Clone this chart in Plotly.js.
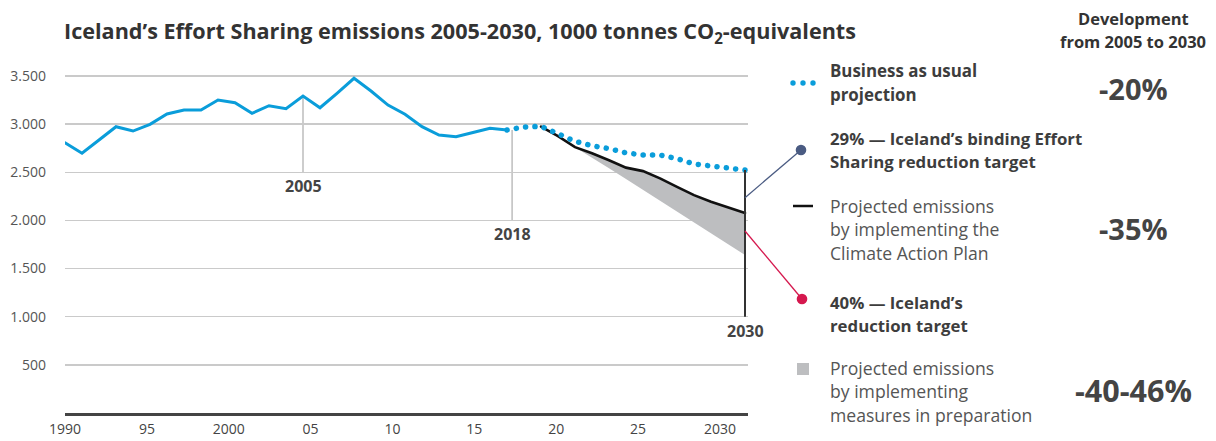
<!DOCTYPE html>
<html><head><meta charset="utf-8">
<script src="https://cdn.plot.ly/plotly-3.0.1.min.js"></script>
<style>
html,body{margin:0;padding:0;background:#fff;}
#chart{width:1216px;height:441px;}
.scatterlayer .js-line{stroke-linecap:round;}
</style></head><body><div id="chart"></div>
<script>
// ---- data (1000 tonnes CO2-eq) ----
const histYears = [1990,1991,1992,1993,1994,1995,1996,1997,1998,1999,2000,2001,2002,2003,2004,2005,2006,2007,2008,2009,2010,2011,2012,2013,2014,2015,2016];
const histValues = [2807,2697,2835,2973,2928,2998,3105,3146,3146,3250,3222,3112,3191,3160,3292,3170,3320,3476,3344,3198,3102,2973,2887,2869,2913,2956,2939];
const bauYears = [2016,2017,2018,2019,2020,2021,2022,2023,2024,2025,2026,2027,2028,2029,2030];
const bauValues = [2939,2970,2977,2894,2822,2775,2746,2701,2679,2679,2641,2586,2564,2541,2523];
const planYears = [2018,2019,2020,2021,2022,2023,2024,2025,2026,2027,2028,2029,2030];
const planValues = [2975,2876,2761,2697,2624,2548,2512,2436,2349,2262,2193,2133,2077];
const prepValues = [2975,2876,2761,2654,2542,2429,2317,2204,2091,1978,1866,1753,1641];
const targetYear = 2030;
const target29 = 2236;
const target40 = 1890;
const yTickVals = [500,1000,1500,2000,2500,3000,3500];
const yTickText = ['500','1.000','1.500','2.000','2.500','3.000','3.500'];
const xTickVals = [1990,1995,2000,2005,2010,2015,2020,2025,2030];
const xTickText = ['1990','95','2000','05','10','15','20','25','2030'];
const markerLabels = ['2005','2018','2030'];
const changeLabels = ['-20%','-35%','-40-46%'];

// ---- geometry helpers (styling/positions) ----
const L = 65, T = 70, W = 683, H = 343;
const X0 = 1990, X1 = 1990 + W/17;      // data axis
const Y1 = 3562;
const px = x => (x - L) / W;
const py = y => (T + H - y) / H;
const dataXp = yr => (yr - X0) / (X1 - X0);
const dataYp = v => v / Y1;

const blue = '#0a9dda', txt = '#3d3d3d', light = '#555';
const font = '"Open Sans", "Noto Sans", sans-serif';

const traces = [
  {x: planYears, y: prepValues, mode: 'lines', line: {width: 0}, hoverinfo: 'skip'},
  {x: planYears, y: planValues, mode: 'lines', fill: 'tonexty', fillcolor: '#bdbec0', line: {width: 0}, hoverinfo: 'skip'},
  {x: planYears, y: planValues, mode: 'lines', line: {color: '#111', width: 2.6}},
  {x: bauYears, y: bauValues, mode: 'lines', line: {color: blue, width: 5.5, dash: '0.1px,9.3px'}},
  {x: histYears, y: histValues, mode: 'lines', line: {color: blue, width: 3}},
  // empty trace so the tick-label axis (x2) is drawn
  {x: [], y: [], xaxis: 'x2', yaxis: 'y', mode: 'lines', hoverinfo: 'skip'}
];

const markerPos = [2004, 2016.3, targetYear];
const markerTop = [histValues[14], histValues[26], bauValues[bauValues.length-1]];
const markerBottom = [2500, 2000, 1000];

const shapes = [];
const annotations = [];
for (let i = 0; i < 3; i++) {
  shapes.push({type: 'line', xref: 'x', yref: 'y', x0: markerPos[i], x1: markerPos[i], y0: markerTop[i], y1: markerBottom[i],
    layer: i < 2 ? 'below' : 'above', line: {color: i < 2 ? '#bdbdbd' : '#333', width: i < 2 ? 1.5 : 2}});
  annotations.push({x: markerPos[i], y: markerBottom[i], xref: 'x', yref: 'y', text: markerLabels[i], showarrow: false,
    yanchor: 'top', yshift: -1, font: {family: font, size: 16, weight: 700, color: '#444'}});
}
// connectors to targets
const conn = [[target29, 801, 150, '#4a5b82'], [target40, 802, 299, '#d5184e']];
conn.forEach(c => {
  shapes.push({type: 'line', xref: 'paper', yref: 'paper', x0: dataXp(targetYear), y0: dataYp(c[0]), x1: px(c[1]), y1: py(c[2]), line: {color: c[3], width: 1.3}});
  shapes.push({type: 'circle', xref: 'paper', yref: 'paper', xsizemode: 'pixel', ysizemode: 'pixel', xanchor: px(c[1]), yanchor: py(c[2]),
    x0: -5.3, x1: 5.3, y0: -5.3, y1: 5.3, fillcolor: c[3], line: {width: 0}});
});
// legend symbols
[793, 803, 813].forEach(x => shapes.push({type: 'circle', xref: 'paper', yref: 'paper', xsizemode: 'pixel', ysizemode: 'pixel',
  xanchor: px(x), yanchor: py(83), x0: -2.7, x1: 2.7, y0: -2.7, y1: 2.7, fillcolor: blue, line: {width: 0}}));
shapes.push({type: 'line', xref: 'paper', yref: 'paper', x0: px(793), x1: px(813), y0: py(206), y1: py(206), line: {color: '#111', width: 2.5}});
shapes.push({type: 'rect', xref: 'paper', yref: 'paper', x0: px(797), x1: px(809), y0: py(363), y1: py(375), fillcolor: '#bdbec0', line: {width: 0}});

function txtAnn(text, x, y, size, weight, color, anchor) {
  annotations.push({xref: 'paper', yref: 'paper', x: px(x), y: py(y), text: text, showarrow: false,
    xanchor: anchor || 'left', yanchor: 'middle', font: {family: font, size: size, weight: weight, color: color}});
}
txtAnn('Iceland’s Effort Sharing emissions 2005-2030, 1000 tonnes CO<sub>2</sub>-equivalents', 62, 32, 21.6, 700, '#333');
txtAnn('Development', 1133, 18, 16.5, 700, '#333', 'center');
txtAnn('from 2005 to 2030', 1133, 42, 16.5, 700, '#333', 'center');
txtAnn(changeLabels[0], 1133, 88, 29, 700, '#444', 'center');
txtAnn(changeLabels[1], 1133, 228, 29, 700, '#444', 'center');
txtAnn(changeLabels[2], 1133, 390, 30.5, 700, '#444', 'center');
const lx = 828;
txtAnn('Business as usual', lx, 70, 16.9, 700, txt);
txtAnn('projection', lx, 94, 16.9, 700, txt);
txtAnn('29% — Iceland’s binding Effort', lx, 138, 16.8, 700, txt);
txtAnn('Sharing reduction target', lx, 161, 16.8, 700, txt);
txtAnn('Projected emissions', lx, 206, 17.6, 400, light);
txtAnn('by implementing the', lx, 229, 17.6, 400, light);
txtAnn('Climate Action Plan', lx, 253, 17.6, 400, light);
txtAnn('40% — Iceland’s', lx, 302, 16.8, 700, txt);
txtAnn('reduction target', lx, 325, 16.8, 700, txt);
txtAnn('Projected emissions', lx, 368, 17.6, 400, light);
txtAnn('by implementing', lx, 391, 17.6, 400, light);
txtAnn('measures in preparation', lx, 415, 17.6, 400, light);

const layout = {
  width: 1216, height: 441,
  margin: {l: L, r: 1216 - L - W, t: T, b: 441 - T - H, pad: 0},
  paper_bgcolor: '#fff', plot_bgcolor: '#fff',
  showlegend: false,
  font: {family: font, color: txt},
  xaxis: {range: [X0, X1], showgrid: false, zeroline: false, showticklabels: false, ticks: '',
    showline: true, linecolor: '#444', linewidth: 3, fixedrange: true},
  xaxis2: {overlaying: 'x', anchor: 'y', side: 'bottom', range: [1990, 1990 + W/16.375],
    tickmode: 'array', tickvals: xTickVals, ticktext: xTickText, showgrid: false, zeroline: false,
    showline: false, ticks: '', tickfont: {family: font, size: 14, color: '#444'}, ticklabelstandoff: 6, fixedrange: true},
  yaxis: {range: [0, Y1], tickmode: 'array', tickvals: yTickVals, ticktext: yTickText, showgrid: true,
    gridcolor: '#cacaca', gridwidth: 1.4, zeroline: false, ticks: '', showline: false,
    tickfont: {family: font, size: 14, color: '#555'}, ticklabelstandoff: 18, fixedrange: true},
  shapes: shapes,
  annotations: annotations
};
Plotly.newPlot('chart', traces, layout, {displayModeBar: false, staticPlot: true});
</script></body></html>
